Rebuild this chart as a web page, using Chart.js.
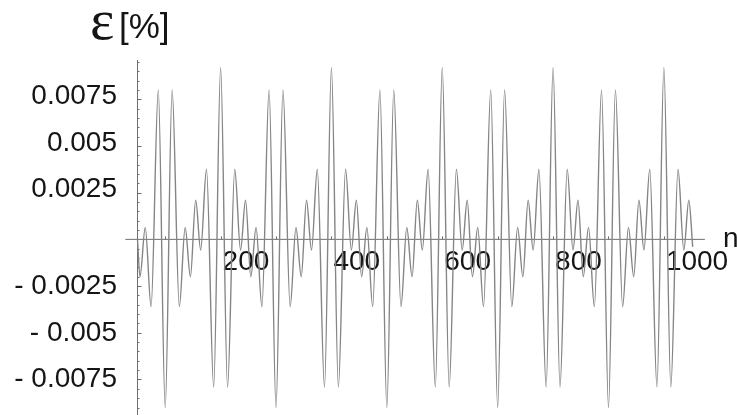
<!DOCTYPE html>
<html lang="en">
<head>
    <meta charset="UTF-8">
    <title>epsilon vs n</title>
    <script src="https://cdn.jsdelivr.net/npm/chart.js"></script>
    <style>
        html, body { margin: 0; padding: 0; background: #fff; }
        #wrap { width: 737px; height: 415px; }
    </style>
</head>
<body>
    <div id="wrap"><canvas id="chart" width="737" height="415"></canvas></div>

    <script>
        // n of each turning point of the curve
        const nValues = [
            50, 54.5, 64, 74.5, 87.5, 100,
            112.5, 125.5, 136, 145.5, 155, 164, 174.5, 187.5, 200, 212.5, 225.5, 236, 245, 254.5, 264, 274.5, 287.5, 300,
            312.5, 325.5, 336, 345.5, 355, 364, 374.5, 387.5, 400, 412.5, 425.5, 436, 445, 454.5, 464, 474.5, 487.5, 500,
            512.5, 525.5, 536, 545.5, 555, 564, 574.5, 587.5, 600, 612.5, 625.5, 636, 645, 654.5, 664, 674.5, 687.5, 700,
            712.5, 725.5, 736, 745.5, 755, 764, 774.5, 787.5, 800, 812.5, 825.5, 836, 845, 854.5, 864, 874.5, 887.5, 900,
            912.5, 925.5, 936, 945.5, 955, 964, 974.5, 987.5, 1000, 1012.5, 1025.5, 1036, 1045, 1052
        ];
        // epsilon [%] at those points
        const epsValues = [
            0, -0.0020, 0.00064, -0.0036, 0.0080, -0.0090,
            0.0080, -0.0036, 0.00064, -0.0020, 0.0021, -0.00057, 0.00375, -0.0079, 0.0092, -0.0079, 0.00375, -0.00057, 0.0021, -0.0020, 0.00064, -0.0036, 0.0080, -0.0090,
            0.0080, -0.0036, 0.00064, -0.0020, 0.0021, -0.00057, 0.00375, -0.0079, 0.0092, -0.0079, 0.00375, -0.00057, 0.0021, -0.0020, 0.00064, -0.0036, 0.0080, -0.0090,
            0.0080, -0.0036, 0.00064, -0.0020, 0.0021, -0.00057, 0.00375, -0.0079, 0.0092, -0.0079, 0.00375, -0.00057, 0.0021, -0.0020, 0.00064, -0.0036, 0.0080, -0.0090,
            0.0080, -0.0036, 0.00064, -0.0020, 0.0021, -0.00057, 0.00375, -0.0079, 0.0092, -0.0079, 0.00375, -0.00057, 0.0021, -0.0020, 0.00064, -0.0036, 0.0080, -0.0090,
            0.0080, -0.0036, 0.00064, -0.0020, 0.0021, -0.00057, 0.00375, -0.0079, 0.0092, -0.0079, 0.00375, -0.00057, 0.0021, -0.0004
        ];

        // ticks
        const xTickValues = [100, 200, 300, 400, 500, 600, 700, 800, 900, 1000];
        const xTickLabels = [200, 400, 600, 800, 1000];
        const yTickValues = [0.0075, 0.005, 0.0025, -0.0025, -0.005, -0.0075];
        const yTickLabels = ['0.0075', '0.005', '0.0025', '- 0.0025', '- 0.005', '- 0.0075'];

        const points = nValues.map((n, i) => ({ x: n, y: epsValues[i] }));

        // axes drawn Mathematica-style: crossing at the origin
        const axesPlugin = {
            id: 'axesPlugin',
            beforeDatasetsDraw(chart) {
                const ctx = chart.ctx;
                const xs = chart.scales.x;
                const ys = chart.scales.y;
                const y0 = ys.getPixelForValue(0);
                const x0 = xs.getPixelForValue(50);

                ctx.save();
                ctx.strokeStyle = '#6e6e6e';
                ctx.lineWidth = 1;

                // x axis
                ctx.beginPath();
                ctx.moveTo(xs.getPixelForValue(28), y0);
                ctx.lineTo(xs.getPixelForValue(1074), y0);
                ctx.stroke();

                // y axis
                ctx.beginPath();
                ctx.moveTo(x0, chart.chartArea.top);
                ctx.lineTo(x0, chart.chartArea.bottom);
                ctx.stroke();

                // x tick marks
                xTickValues.forEach(v => {
                    const px = Math.round(xs.getPixelForValue(v)) + 0.5;
                    ctx.beginPath();
                    ctx.moveTo(px, y0);
                    ctx.lineTo(px, y0 - 3);
                    ctx.stroke();
                });

                // y tick marks, minor every 0.0005
                for (let k = -18; k <= 19; k++) {
                    if (k === 0) continue;
                    const py = Math.round(ys.getPixelForValue(k * 0.0005)) + 0.5;
                    const len = (k % 5 === 0) ? 4 : 2;
                    ctx.beginPath();
                    ctx.moveTo(x0, py);
                    ctx.lineTo(x0 + len, py);
                    ctx.stroke();
                }

                // labels
                ctx.fillStyle = '#151515';
                ctx.font = '28px "Liberation Sans", Arial, sans-serif';

                ctx.textAlign = 'left';
                ctx.textBaseline = 'alphabetic';
                xTickLabels.forEach(v => {
                    ctx.fillText(String(v), xs.getPixelForValue(v) + 2, y0 + 31);
                });

                ctx.textAlign = 'right';
                ctx.textBaseline = 'middle';
                yTickValues.forEach((v, i) => {
                    const off = v > 0 ? -3 : 0;
                    ctx.fillText(yTickLabels[i], 117, ys.getPixelForValue(v) + off);
                });

                // axis names
                ctx.textAlign = 'left';
                ctx.textBaseline = 'alphabetic';
                ctx.fillText('n', 723, y0 + 8);

                ctx.font = '58px "Liberation Serif", "DejaVu Serif", serif';
                ctx.fillText('ε', 90, 39);
                ctx.font = '35px "Liberation Sans", Arial, sans-serif';
                ctx.fillText('[%]', 119, 38);

                ctx.restore();
            }
        };

        new Chart(document.getElementById('chart'), {
            type: 'line',
            data: {
                datasets: [{
                    data: points,
                    borderColor: '#858585',
                    borderWidth: 1.4,
                    pointRadius: 0,
                    fill: false,
                    cubicInterpolationMode: 'monotone',
                    clip: false
                }]
            },
            options: {
                responsive: false,
                animation: false,
                layout: {
                    padding: { left: 137.5, right: 44.3, top: 60, bottom: 0 }
                },
                plugins: {
                    legend: { display: false },
                    tooltip: { enabled: false }
                },
                scales: {
                    x: { type: 'linear', min: 50, max: 1052, display: false },
                    y: { type: 'linear', min: -0.0094, max: 0.0096, display: false }
                }
            },
            plugins: [axesPlugin]
        });
    </script>
</body>
</html>
